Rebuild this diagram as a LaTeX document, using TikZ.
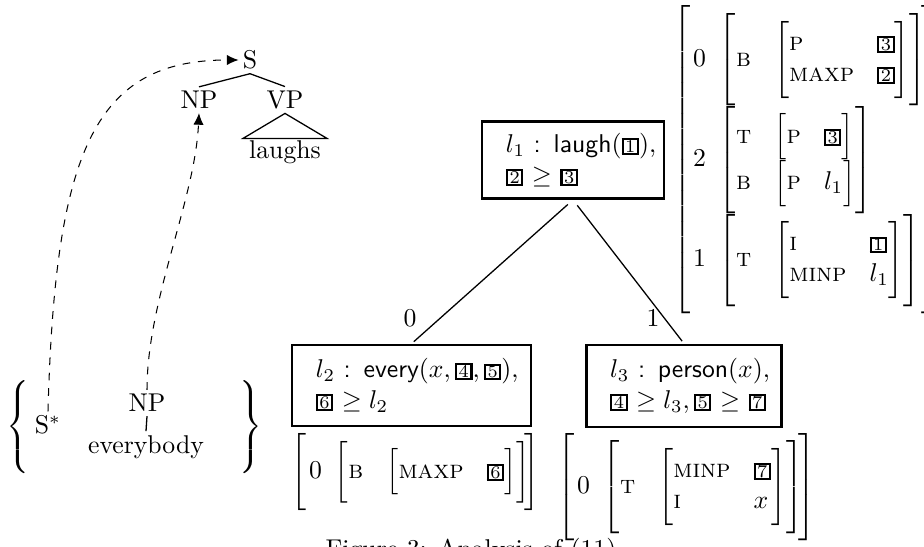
\documentclass[tikz,border=0pt]{standalone}
\usepackage{amsmath}
\usepackage{amssymb}
\usetikzlibrary{positioning,arrows.meta}
\newcommand{\tagnum}[1]{{\setlength{\fboxsep}{0.1pt}\setlength{\fboxrule}{0.8pt}\fbox{\kern0.5pt\scriptsize #1\kern0.5pt}}}
\newcommand{\feat}[1]{\textsc{#1}}
\newcommand{\fs}[1]{\left[\begin{array}{@{}l@{\hspace{9pt}}l@{}}#1\end{array}\right]}
\newcommand{\fsidx}[1]{\left[\begin{array}{@{\hspace{1pt}}l@{\hspace{5pt}}l@{\hspace{-2pt}}}#1\end{array}\right]}
\delimitershortfall=-6pt
\tikzset{
    tree node/.style={inner sep=1.5pt},
    tree edge/.style={line width=0.5pt},
    move arrow/.style={dashed, -{Latex[length=4.5pt,width=4pt]}},
    sem box/.style={rectangle, draw, line width=1pt, align=left, inner xsep=9.3pt},
    fs node/.style={inner sep=0pt, anchor=west}
}

\begin{document}
\begin{tikzpicture}[x=0.389pt, y=-0.389pt]
\useasboundingbox (0,0) rectangle (924,547);

\node[tree node] (sroot) at (250,60) {S};
\node[tree node] (nproot) at (199,100) {NP};
\node[tree node] (vproot) at (285,100) {VP};
\node[tree node] (laughs) at (285,152) {laughs};
\draw[tree edge] (sroot.south) -- (nproot.north);
\draw[tree edge] (sroot.south) -- (vproot.north);
\draw[tree edge] (vproot.south) -- ++(-42,25) -- ++(84,0) -- cycle;

\node (lbrace) at (19,427) {$\left\{\vrule height 12pt depth 12pt width 0pt\right.$};
\node (rbrace) at (249,427) {$\left.\vrule height 12pt depth 12pt width 0pt\right\}$};
\node[tree node] (sstar) at (48,425) {S$^*$};
\node[tree node] (npaux) at (147,403) {NP};
\node[tree node] (everybody) at (146,447) {everybody};
\draw[tree edge] (npaux.south) -- (everybody.north);

\draw[move arrow] (sstar.north) .. controls (55,150) and (95,60) .. (sroot.west);
\draw[move arrow] (npaux.north) .. controls (147,300) and (195,200) .. (nproot.south);

\node[sem box, text width=52.2pt, minimum height=30pt] (lone) at (573,160)
    {\mbox{$l_1$ \textsf{: laugh}$($\tagnum{1}$)$,}\\ \mbox{\tagnum{2} $\geq$ \tagnum{3}}};
\node[sem box, text width=74.4pt, minimum height=31.5pt] (ltwo) at (411.5,385.5)
    {\mbox{$l_2$ \textsf{: every}$(x,\tagnum{4},\tagnum{5})$,}\\ \mbox{\tagnum{6} $\geq l_2$}};
\node[sem box, text width=57.4pt, minimum height=32pt] (lthree) at (684,386)
    {\mbox{$l_3$ \textsf{: person}$(x)$,}\\ \mbox{\tagnum{4} $\geq l_3,\,$\tagnum{5} $\geq$ \tagnum{7}}};

\draw[tree edge, shorten <=2.7pt, shorten >=1.2pt] (lone.south) -- (ltwo.north);
\draw[tree edge, shorten <=2.7pt, shorten >=1.2pt] (lone.south) -- (lthree.north);
\node (edgezero) at (410,318) {0};
\node (edgeone) at (653,318) {1};

\node[fs node] (fsone) at (673,160) {$\fsidx{0 & \fs{\feat{b} & \fs{\feat{p} & \tagnum{3} \\ \feat{maxp} & \tagnum{2}}} \\
    2 & \fs{\feat{t} & \fs{\feat{p} & \tagnum{3}} \\ \feat{b} & \fs{\feat{p} & l_1}} \\
    1 & \fs{\feat{t} & \fs{\feat{i} & \tagnum{1} \\ \feat{minp} & l_1}}}$};
\node[fs node] (fstwo) at (291,472) {$\fsidx{0 & \fs{\feat{b} & \fs{\feat{maxp} & \tagnum{6}}}}$};
\node[fs node] (fsthree) at (557,487) {$\fsidx{0 & \fs{\feat{t} & \fs{\feat{minp} & \tagnum{7} \\ \feat{i} & x}}}$};

\node[anchor=base] (caption) at (471,557) {Figure 3: Analysis of (11)};
\end{tikzpicture}
\end{document}
